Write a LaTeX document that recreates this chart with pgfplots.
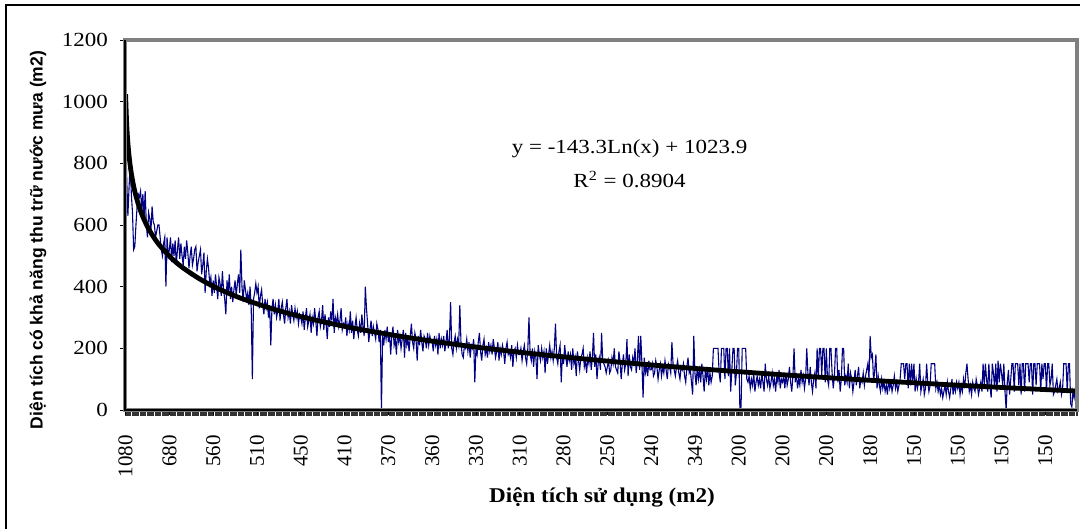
\documentclass[border=0pt]{standalone}
\usepackage{fontspec}
\setmainfont{Liberation Serif}
\newfontfamily\arialfont{Liberation Sans}
\usepackage{pgfplots}
\usepackage{pgfplotstable}
\pgfplotsset{compat=1.18}
\definecolor{seriesblue}{RGB}{0,0,128}
\definecolor{framegray}{RGB}{128,128,128}

% one value per category, 826 categories, in the order of the chart
\pgfplotstableread[row sep=\\]{
y\\
890\\750\\630\\720\\800\\700\\640\\520\\530\\600\\660\\700\\690\\710\\650\\700\\620\\710\\600\\560\\640\\620\\580\\660\\610\\600\\560\\580\\600\\600\\560\\520\\500\\540\\560\\400\\560\\500\\
520\\560\\480\\540\\500\\550\\470\\520\\560\\490\\540\\500\\470\\530\\490\\550\\510\\460\\500\\530\\470\\490\\520\\530\\450\\480\\500\\520\\440\\470\\510\\380\\450\\490\\460\\410\\430\\370\\
420\\380\\440\\400\\360\\430\\410\\370\\450\\390\\360\\310\\420\\380\\440\\360\\400\\350\\390\\420\\370\\410\\440\\380\\520\\400\\350\\420\\390\\360\\380\\340\\400\\330\\100\\360\\380\\410\\
380\\400\\330\\370\\390\\340\\310\\360\\330\\350\\300\\340\\210\\330\\360\\310\\340\\300\\320\\360\\290\\330\\350\\310\\280\\330\\360\\300\\320\\280\\340\\310\\290\\330\\300\\320\\280\\310\\
300\\280\\320\\260\\300\\330\\270\\290\\310\\250\\300\\280\\330\\290\\240\\300\\320\\270\\290\\340\\260\\310\\280\\230\\300\\270\\320\\290\\360\\250\\300\\280\\310\\270\\290\\330\\260\\280\\
270\\300\\240\\280\\260\\320\\250\\290\\230\\270\\300\\260\\240\\280\\250\\310\\270\\240\\400\\330\\280\\220\\260\\290\\240\\270\\250\\230\\280\\260\\220\\260\\0\\240\\210\\260\\230\\270\\
220\\250\\180\\240\\270\\210\\230\\180\\260\\220\\240\\200\\230\\260\\170\\250\\210\\230\\190\\240\\280\\220\\200\\250\\230\\160\\240\\210\\260\\220\\190\\240\\230\\200\\250\\210\\240\\220\\
220\\190\\240\\210\\230\\180\\250\\200\\230\\210\\240\\190\\220\\260\\200\\230\\350\\200\\180\\220\\240\\200\\230\\210\\340\\220\\180\\170\\210\\200\\230\\190\\220\\170\\210\\200\\230\\90\\
200\\180\\220\\250\\190\\160\\210\\230\\180\\200\\170\\220\\190\\210\\180\\230\\200\\170\\190\\220\\160\\200\\180\\210\\190\\150\\200\\220\\180\\190\\170\\210\\140\\190\\200\\170\\210\\180\\
180\\200\\160\\190\\210\\170\\150\\200\\300\\180\\160\\200\\140\\190\\170\\100\\210\\180\\160\\200\\170\\190\\120\\200\\150\\180\\210\\170\\190\\160\\200\\280\\170\\150\\190\\210\\90\\180\\
150\\210\\170\\140\\190\\160\\180\\130\\200\\150\\170\\110\\190\\160\\130\\170\\180\\200\\140\\160\\120\\170\\150\\190\\130\\170\\250\\140\\180\\100\\150\\170\\130\\250\\160\\150\\140\\120\\
140\\160\\120\\130\\170\\150\\200\\140\\130\\120\\190\\160\\100\\150\\180\\130\\150\\230\\110\\180\\140\\130\\170\\150\\200\\120\\160\\240\\130\\240\\150\\40\\170\\120\\140\\110\\160\\130\\
130\\150\\110\\120\\160\\140\\100\\130\\150\\110\\140\\120\\160\\130\\100\\150\\140\\120\\220\\150\\130\\110\\140\\160\\120\\100\\140\\130\\150\\110\\90\\140\\170\\120\\130\\90\\50\\240\\
120\\80\\140\\100\\130\\90\\150\\110\\60\\130\\100\\140\\80\\120\\90\\110\\200\\200\\200\\200\\200\\120\\90\\200\\200\\200\\100\\200\\200\\110\\200\\60\\130\\200\\200\\80\\120\\200\\
200\\0\\10\\200\\200\\200\\200\\100\\90\\110\\70\\100\\80\\120\\60\\90\\110\\80\\100\\70\\120\\90\\60\\150\\100\\80\\110\\70\\90\\120\\80\\100\\60\\110\\90\\130\\70\\100\\
90\\110\\70\\120\\80\\100\\140\\90\\60\\110\\200\\90\\120\\70\\100\\80\\130\\90\\110\\70\\100\\200\\120\\80\\140\\90\\60\\100\\120\\70\\200\\100\\200\\200\\110\\200\\200\\90\\
200\\100\\80\\200\\200\\120\\70\\110\\200\\200\\90\\130\\60\\100\\200\\200\\80\\110\\90\\150\\70\\120\\100\\60\\90\\130\\80\\110\\140\\70\\100\\90\\120\\80\\110\\130\\150\\100\\
240\\170\\180\\90\\130\\180\\70\\110\\80\\60\\100\\70\\90\\60\\80\\50\\100\\70\\90\\60\\80\\110\\70\\90\\60\\80\\100\\150\\150\\150\\100\\150\\150\\70\\150\\80\\150\\90\\
150\\60\\100\\70\\90\\150\\60\\80\\100\\50\\70\\150\\90\\60\\80\\150\\150\\150\\150\\70\\90\\60\\80\\50\\70\\40\\60\\80\\50\\90\\60\\40\\70\\100\\50\\80\\60\\90\\
70\\90\\50\\80\\60\\100\\70\\120\\150\\100\\60\\80\\50\\90\\70\\60\\100\\80\\50\\70\\90\\60\\150\\80\\150\\100\\60\\150\\80\\40\\150\\120\\70\\150\\60\\160\\90\\150\\
120\\80\\150\\60\\0\\90\\130\\50\\100\\150\\150\\60\\150\\150\\150\\80\\150\\50\\150\\150\\60\\150\\150\\150\\90\\150\\150\\50\\150\\150\\80\\150\\150\\150\\60\\150\\100\\150\\
150\\60\\150\\150\\80\\100\\150\\50\\60\\80\\100\\60\\70\\90\\50\\70\\150\\150\\150\\60\\150\\150\\20\\10\\60\\40\\70\\90\\
}\areadata

\begin{document}
\begin{tikzpicture}
  \useasboundingbox (0,0) rectangle (540pt,264.5pt);
  % outer chart frame (cut off on the right and at the bottom)
  \draw[line width=1pt] (3pt,0) -- (3pt,261.75pt) -- (541pt,261.75pt);

  \begin{axis}[
    at={(62.5pt,59.5pt)}, anchor=south west,
    scale only axis, width=476pt, height=185pt,
    xmin=0.5, xmax=826.5, ymin=0, ymax=1200,
    axis line style={draw=none},
    ytick={0,200,...,1200},
    xtick={1,39,...,799},
    xticklabels={1080,680,560,510,450,410,370,360,330,310,280,250,240,349,200,200,200,180,150,150,150,150},
    minor xtick={0.5,1.5,...,826.5},
    tick align=outside, tick pos=left,
    major tick length=2.5pt, minor tick length=3pt,
    every tick/.style={black, line width=0.4pt},
    every minor tick/.style={black!80, line width=0.35pt},
    /pgf/number format/assume math mode=true,
    /pgf/number format/1000 sep={},
    xticklabel style={font=\fontsize{10.5}{12}\selectfont, rotate=90, anchor=east},
    xticklabel shift=6.5pt,
    yticklabel style={font=\fontsize{10}{12}\selectfont, anchor=east, xscale=1.15},
    yticklabel shift=2pt,
    clip=false,
  ]
  \addplot[seriesblue, line width=0.55pt] table[x expr=\coordindex+1, y=y] {\areadata};
  \addplot[black, line width=2.4pt, smooth] coordinates {
    (1,1023.9) (2,924.6) (3,866.5) (4,825.2) (5,793.3) (6,767.1) (8,725.9) (10,693.9)
    (13,656.4) (16,626.6) (20,594.6) (25,562.6) (30,536.5) (40,495.3) (50,463.3)
    (65,425.7) (80,396.0) (100,364.0) (130,326.4) (160,296.6) (200,264.6) (250,232.7)
    (300,206.5) (350,184.5) (400,165.3) (450,148.4) (500,133.3) (550,119.7) (600,107.2)
    (650,95.7) (700,85.1) (750,75.2) (800,66.0) (826,61.4)};
  % plot area border and axis lines
  \draw[framegray, line width=2pt] (rel axis cs:0,0) rectangle (rel axis cs:1,1);
  \draw[black, line width=0.6pt] (rel axis cs:0,1) -- (rel axis cs:0,0) -- (rel axis cs:1,0);
  \node[font=\fontsize{10}{12}\selectfont, xscale=1.15] at (rel axis cs:0.53,0.706) {y = -143.3Ln(x) + 1023.9};
  \node[font=\fontsize{10}{12}\selectfont, xscale=1.15] at (rel axis cs:0.53,0.622) {R\textsuperscript{2} = 0.8904};
  \end{axis}

  \node[rotate=90, font=\arialfont\bfseries\fontsize{8.75}{10}\selectfont] at (19pt,144.5pt)
    {Diện tích có khả năng thu trữ nước mưa (m2)};
  \node[font=\bfseries\fontsize{10.5}{13}\selectfont, xscale=1.1] at (301pt,16pt) {Diện tích sử dụng (m2)};
\end{tikzpicture}
\end{document}
